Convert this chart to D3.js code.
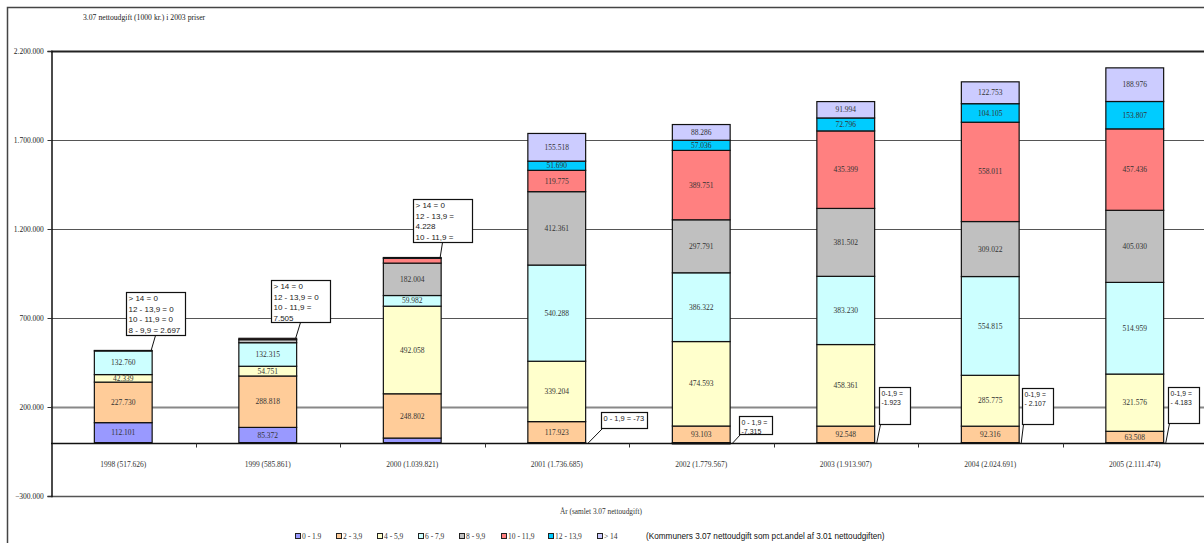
<!DOCTYPE html>
<html><head><meta charset="utf-8">
<script src="https://cdn.jsdelivr.net/npm/d3@7"></script>
<style>
html,body{margin:0;padding:0;background:#fff;}
svg{display:block;}
</style></head>
<body>
<svg id="chart" width="1204" height="543"></svg>
<script>
// ---------- DATA ----------
const years = ["1998", "1999", "2000", "2001", "2002", "2003", "2004", "2005"];
const yearTotals = ["517.626", "585.861", "1.039.821", "1.736.685", "1.779.567", "1.913.907", "2.024.691", "2.111.474"];
const seriesNames = ["0 - 1.9", "2 - 3,9", "4 - 5,9", "6 - 7,9", "8 - 9,9", "10 - 11,9", "12 - 13,9", "> 14"];
const s0_19   = [112101, 85372, 25500, -73, -7315, -1923, -2107, -4183];
const s2_39   = [227730, 288818, 248802, 117923, 93103, 92548, 92316, 63508];
const s4_59   = [42339, 54751, 492058, 339204, 474593, 458361, 285775, 321576];
const s6_79   = [132760, 132315, 59982, 540288, 386322, 383230, 554815, 514959];
const s8_99   = [2697, 17100, 182004, 412361, 297791, 381502, 309022, 405030];
const s10_119 = [0, 7505, 27247, 119775, 389751, 435399, 558011, 457436];
const s12_139 = [0, 0, 4228, 51690, 57036, 72796, 104105, 153807];
const s14     = [0, 0, 0, 155518, 88286, 91994, 122753, 188976];
const yTicks = [-300000, 200000, 700000, 1200000, 1700000, 2200000];
const calloutText = [
  ["> 14 = 0", "12 - 13,9 = 0", "10 - 11,9 = 0", "8 - 9,9 = 2.697"],
  ["> 14 = 0", "12 - 13,9 = 0", "10 - 11,9 =", "7.505"],
  ["> 14 = 0", "12 - 13,9 =", "4.228", "10 - 11,9 =", "27.247"],
  ["0 - 1,9 = -73"],
  ["0 - 1,9 =", "-7.315"],
  ["0-1,9 =", "-1.923"],
  ["0-1,9 =", "- 2.107"],
  ["0-1,9 =", "- 4.183"]
];
const titleText = "3.07 nettoudgift (1000 kr.) i 2003 priser";
const xTitleText = "År (samlet 3.07 nettoudgift)";
const noteText = "(Kommuners 3.07 nettoudgift som pct.andel af 3.01  nettoudgiften)";

// ---------- STYLE / LAYOUT ----------
const colors = ["#9999FF", "#FFCC99", "#FFFFCC", "#CCFFFF", "#C0C0C0", "#FF8080", "#00CCFF", "#CCCCFF"];
const serif = "'Liberation Serif','Times New Roman',serif";
const sans = "'Liberation Sans',Arial,sans-serif";
const plot = {left: 51, right: 1207, top: 51, bottom: 496};

const allSeries = [s0_19, s2_39, s4_59, s6_79, s8_99, s10_119, s12_139, s14];
const table = years.map((y, i) => {
  const row = {year: y};
  seriesNames.forEach((n, k) => row[n] = allSeries[k][i]);
  return row;
});

const svg = d3.select("#chart");
const x = d3.scaleBand().domain(years).range([plot.left, plot.right]).paddingInner(0.6).paddingOuter(0.3);
const xOuter = d3.scaleBand().domain(years).range([plot.left, plot.right]);
const y = d3.scaleLinear().domain([-300000, 2200000]).range([plot.bottom, plot.top]);
const loc = d3.formatLocale({decimal: ",", thousands: ".", grouping: [3], currency: ["", ""]});
const fmt = loc.format(",d");

// outer border
svg.append("path").attr("d", `M7.5,543 V7.5 H1204`).attr("fill", "none").attr("stroke", "#444").attr("stroke-width", 1.5);

// title
svg.append("text").attr("x", 83).attr("y", 20).attr("font-family", serif).attr("font-size", 7.7)
  .attr("fill", "#222").text(titleText);

// gridlines
svg.append("g").selectAll("line").data(yTicks).join("line")
  .attr("x1", plot.left).attr("x2", plot.right)
  .attr("y1", d => Math.round(y(d)) + 0.5).attr("y2", d => Math.round(y(d)) + 0.5)
  .attr("stroke", d => d === 200000 ? "#888" : (d === 2200000 ? "#222" : "#555"))
  .attr("stroke-width", d => d === 200000 ? 2 : (d === 2200000 ? 2 : (d === -300000 ? 1.6 : 1)));

// y axis
const yAxis = svg.append("g").attr("transform", `translate(${plot.left + 0.5},0)`)
  .call(d3.axisLeft(y).tickValues(yTicks).tickSize(4).tickFormat(d => fmt(d)));
yAxis.select(".domain").attr("stroke", "#111").attr("stroke-width", 1.5);
yAxis.selectAll(".tick line").attr("stroke", "#333");
yAxis.selectAll("text").attr("font-family", serif).attr("font-size", 7.5).attr("fill", "#222").attr("dx", "-0.1em");

// stacked bars
const stack = d3.stack().keys(seriesNames).offset(d3.stackOffsetDiverging);
const stacked = stack(table);
const gBars = svg.append("g");
stacked.forEach((layer, k) => {
  const g = gBars.append("g");
  const segs = layer.filter(d => d.data[seriesNames[k]] !== 0);
  g.selectAll("rect").data(segs).join("rect")
    .attr("x", d => x(d.data.year))
    .attr("width", x.bandwidth())
    .attr("y", d => y(Math.max(d[0], d[1])))
    .attr("height", d => Math.abs(y(d[0]) - y(d[1])))
    .attr("fill", colors[k])
    .attr("stroke", "#111").attr("stroke-width", 1.2);
  g.selectAll("text").data(segs.filter(d => Math.abs(d.data[seriesNames[k]]) >= 40000)).join("text")
    .attr("x", d => x(d.data.year) + x.bandwidth() / 2)
    .attr("y", d => (y(d[0]) + y(d[1])) / 2)
    .attr("dy", "0.35em")
    .attr("text-anchor", "middle")
    .attr("font-family", serif).attr("font-size", 7.5).attr("fill", "#333")
    .text(d => fmt(d.data[seriesNames[k]]));
});

// x axis (zero line)
const xAxisY = Math.round(y(0)) + 0.5;
svg.append("line").attr("x1", plot.left).attr("x2", plot.right).attr("y1", xAxisY).attr("y2", xAxisY)
  .attr("stroke", "#111").attr("stroke-width", 1.5);
svg.append("g").selectAll("line").data(years.slice(1)).join("line")
  .attr("x1", d => Math.round(xOuter(d)) + 0.5).attr("x2", d => Math.round(xOuter(d)) + 0.5)
  .attr("y1", xAxisY).attr("y2", xAxisY + 4).attr("stroke", "#333");
svg.append("g").selectAll("text").data(years).join("text")
  .attr("x", d => x(d) + x.bandwidth() / 2)
  .attr("y", xAxisY + 23)
  .attr("text-anchor", "middle")
  .attr("font-family", serif).attr("font-size", 7.5).attr("fill", "#333")
  .text((d, i) => `${d} (${yearTotals[i]})`);

// x title
svg.append("text").attr("x", 601).attr("y", 514).attr("text-anchor", "middle")
  .attr("font-family", serif).attr("font-size", 7.3).attr("fill", "#333").text(xTitleText);

// callouts
const totalsTop = years.map((yr, i) => d3.sum(allSeries, s => Math.max(0, s[i])));
const calloutLayout = [
  {mode: "top", w: 59, h: 43, dxBox: -26, dyBox: -58, lh: 10.5, fs: 8},
  {mode: "top", w: 59, h: 42, dxBox: -26, dyBox: -58, lh: 10.5, fs: 8},
  {mode: "top", w: 59, h: 43, dxBox: -28, dyBox: -59, lh: 10.5, fs: 8},
  {mode: "neg", w: 46, h: 16, dxBox: 15, boxTop: 412, lh: 10, fs: 7.5},
  {mode: "neg", w: 33, h: 18, dxBox: 9, boxTop: 416, lh: 8.5, fs: 7},
  {mode: "neg", w: 31, h: 37, dxBox: 4, boxTop: 387, lh: 9, fs: 6.8},
  {mode: "neg", w: 31, h: 36, dxBox: 3, boxTop: 388, lh: 9, fs: 6.8},
  {mode: "neg", w: 31, h: 36, dxBox: 4, boxTop: 387, lh: 9, fs: 6.8}
];
const gCall = svg.append("g");
years.forEach((yr, i) => {
  const L = calloutLayout[i];
  const barRight = x(yr) + x.bandwidth();
  const bx = Math.round(barRight + L.dxBox) + 0.5;
  let by, lineFrom, lineTo;
  if (L.mode === "top") {
    const yt = y(totalsTop[i]);
    by = Math.round(yt + L.dyBox) + 0.5;
    lineFrom = [bx + 29, by + L.h];
    lineTo = [barRight - 1, yt];
  } else {
    by = L.boxTop + 0.5;
    lineFrom = [bx + 1, by + L.h];
    lineTo = [barRight + 2, y(0) + 1];
  }
  const g = gCall.append("g");
  g.append("line").attr("x1", lineFrom[0]).attr("y1", lineFrom[1]).attr("x2", lineTo[0]).attr("y2", lineTo[1])
    .attr("stroke", "#111").attr("stroke-width", 1);
  const clipId = "clip" + i;
  g.append("clipPath").attr("id", clipId).append("rect").attr("x", bx).attr("y", by).attr("width", L.w).attr("height", L.h);
  g.append("rect").attr("x", bx).attr("y", by).attr("width", L.w).attr("height", L.h)
    .attr("fill", "#fff").attr("stroke", "#111").attr("stroke-width", 1.2);
  g.append("g").attr("clip-path", `url(#${clipId})`).selectAll("text").data(calloutText[i]).join("text")
    .attr("x", bx + 2).attr("y", (d, j) => by + 8.5 + j * L.lh)
    .attr("font-family", sans).attr("font-size", L.fs).attr("fill", "#222")
    .text(d => d);
});

// legend
const legendX = [295, 336, 377, 418, 459, 501, 548, 597];
const gLeg = svg.append("g");
seriesNames.forEach((n, k) => {
  gLeg.append("rect").attr("x", legendX[k] + 0.5).attr("y", 533.5).attr("width", 5).attr("height", 5)
    .attr("fill", colors[k]).attr("stroke", "#222").attr("stroke-width", 1);
  gLeg.append("text").attr("x", legendX[k] + 7).attr("y", 539).attr("font-family", serif)
    .attr("font-size", 7.5).attr("fill", "#333").text(n);
});
svg.append("text").attr("x", 646).attr("y", 539).attr("font-family", sans).attr("font-size", 8.2)
  .attr("fill", "#111").text(noteText);
</script>
</body></html>
